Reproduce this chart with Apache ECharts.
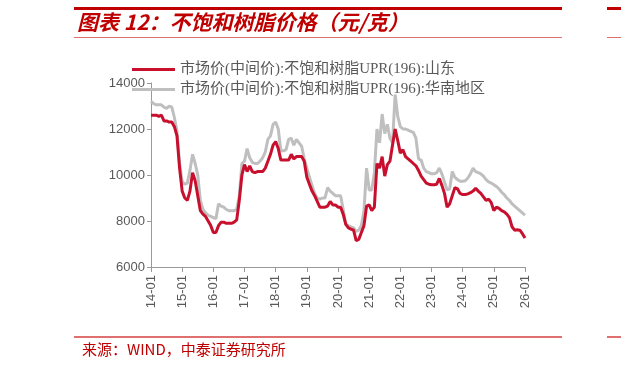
<!DOCTYPE html>
<html>
<head>
<meta charset="utf-8">
<style>
html,body{margin:0;padding:0;background:#fff;}
#c{width:621px;height:367px;}
</style>
<script src="https://cdn.jsdelivr.net/npm/echarts@6/dist/echarts.min.js"></script>
</head>
<body>
<div id="c"></div>
<script>
// Monthly categories 2014-01 .. 2026-01
const months = [];
for (let y = 14; y <= 26; y++) {
  for (let m = 1; m <= 12; m++) {
    if (y === 26 && m > 1) break;
    months.push(y + '-' + (m < 10 ? '0' + m : '' + m));
  }
}
const nameShandong = '市场价(中间价):不饱和树脂UPR(196):山东';
const nameSouth = '市场价(中间价):不饱和树脂UPR(196):华南地区';
const yTicks = [6000, 8000, 10000, 12000, 14000];

const shandong = [
12600,12600,12600,12550,12600,12350,12350,12300,12300,12100,11700,10300,
9300,9000,8900,9300,10100,9750,9100,8450,8300,8200,8000,7800,
7500,7500,7800,7950,7950,7900,7900,7900,7950,8050,8900,10000,
10450,10150,10400,10150,10100,10150,10150,10150,10300,10600,10900,11300,
11450,11150,10650,10650,10650,10650,10900,10700,10800,10800,10800,10600,
9900,9600,9300,9100,8850,8600,8600,8600,8650,8850,8700,8700,
8600,8600,8300,7850,7700,7650,7600,7150,7200,7500,7800,8650,
8700,8450,8600,10500,10300,10800,9950,10450,10600,11300,12000,11500,
10950,11100,10800,10700,10600,10500,10400,10200,9950,9800,9650,9600,
9580,9580,9600,9850,9550,9200,8600,8750,9100,9450,9400,9200,
9150,9150,9180,9230,9300,9420,9300,9200,9050,8900,8950,8800,
8450,8600,8550,8450,8400,8300,8150,7750,7600,7620,7600,7450,
7260];

const southChina = [
13200,13100,13050,13050,13050,12950,12900,13000,12950,12500,11900,10500,
9700,9600,9650,10200,10900,10500,10000,8900,8500,8350,8250,8200,
8150,8100,8750,8650,8600,8500,8450,8450,8450,8500,9100,10500,
10600,11150,10750,10550,10500,10500,10600,10750,11000,11550,11700,12200,
12300,12000,11050,11050,11100,11550,11600,11300,11550,11400,11250,10700,
10300,9900,9550,9200,9000,8950,9000,9000,9450,9300,9200,9100,
9100,9100,8500,7850,7800,7750,7700,7550,7600,7800,8450,10300,
9350,9350,10100,12000,11400,12650,11800,12200,11600,11400,13500,12550,
12100,12000,12000,11950,11900,11850,11600,10700,10650,10300,10150,10100,
10050,10050,10100,10300,10050,9700,9350,9400,10150,9900,9800,9730,
9730,9750,9870,10050,10300,10150,10100,10050,9950,9800,9700,9650,
9580,9500,9400,9250,9150,9000,8900,8750,8650,8550,8450,8350,
8250];

const chart = echarts.init(document.getElementById('c'), null, {renderer: 'canvas'});
const labelColor = '#595959';
chart.setOption({
  animation: false,
  backgroundColor: '#fff',
  graphic: [
    {type: 'rect', shape: {x: 74, y: 7, width: 488, height: 3}, style: {fill: '#c00000'}},
    {type: 'rect', shape: {x: 607, y: 7, width: 14, height: 3}, style: {fill: '#c00000'}},
    {type: 'text', x: 77, y: 22, style: {text: '图表 12：不饱和树脂价格（元/克）', fill: '#c00000',
      font: 'italic bold 21px "Noto Sans CJK SC", sans-serif', verticalAlign: 'middle'}},
    {type: 'rect', shape: {x: 74, y: 37, width: 488, height: 1}, style: {fill: '#e07070'}},
    {type: 'rect', shape: {x: 607, y: 37, width: 14, height: 1}, style: {fill: '#e07070'}},
    {type: 'rect', shape: {x: 74, y: 336, width: 488, height: 2}, style: {fill: '#e07070'}},
    {type: 'rect', shape: {x: 607, y: 336, width: 14, height: 2}, style: {fill: '#e07070'}},
    {type: 'text', x: 82, y: 349, style: {text: '来源：WIND，中泰证券研究所', fill: '#c00000',
      font: '15px "Noto Sans CJK SC", sans-serif', verticalAlign: 'middle'}}
  ],
  legend: {
    orient: 'vertical',
    left: 127,
    top: 57,
    itemGap: 5,
    itemWidth: 43,
    itemHeight: 3,
    icon: 'rect',
    data: [nameShandong, nameSouth],
    textStyle: {color: labelColor, fontSize: 15, fontFamily: '"Liberation Serif", "Noto Sans CJK SC", serif'}
  },
  grid: {left: 151, right: 96, top: 83, bottom: 100, containLabel: false},
  xAxis: {
    type: 'category',
    data: months,
    boundaryGap: false,
    axisLine: {lineStyle: {color: '#999', width: 1}},
    axisTick: {show: true, interval: (i) => i % 12 === 0, length: 5, lineStyle: {color: '#999'}},
    axisLabel: {interval: (i) => i % 12 === 0, rotate: 90, color: labelColor, fontSize: 13,
      fontFamily: 'Arial, "Liberation Sans", sans-serif', margin: 8},
    splitLine: {show: false}
  },
  yAxis: {
    type: 'value',
    min: yTicks[0],
    max: yTicks[yTicks.length - 1],
    interval: 2000,
    axisLine: {show: true, lineStyle: {color: '#999', width: 1}},
    axisTick: {show: true, length: 4, lineStyle: {color: '#999'}},
    axisLabel: {color: labelColor, fontSize: 13, fontFamily: 'Arial, "Liberation Sans", sans-serif', margin: 6,
      formatter: (v) => String(v)},
    splitLine: {show: false}
  },
  series: [
    {name: nameSouth, type: 'line', data: southChina, symbol: 'none', smooth: false,
      lineStyle: {color: '#bfbfbf', width: 3}, itemStyle: {color: '#bfbfbf'}, z: 2},
    {name: nameShandong, type: 'line', data: shandong, symbol: 'none', smooth: false,
      lineStyle: {color: '#c8102e', width: 3}, itemStyle: {color: '#c8102e'}, z: 3}
  ]
});
</script>
</body>
</html>
